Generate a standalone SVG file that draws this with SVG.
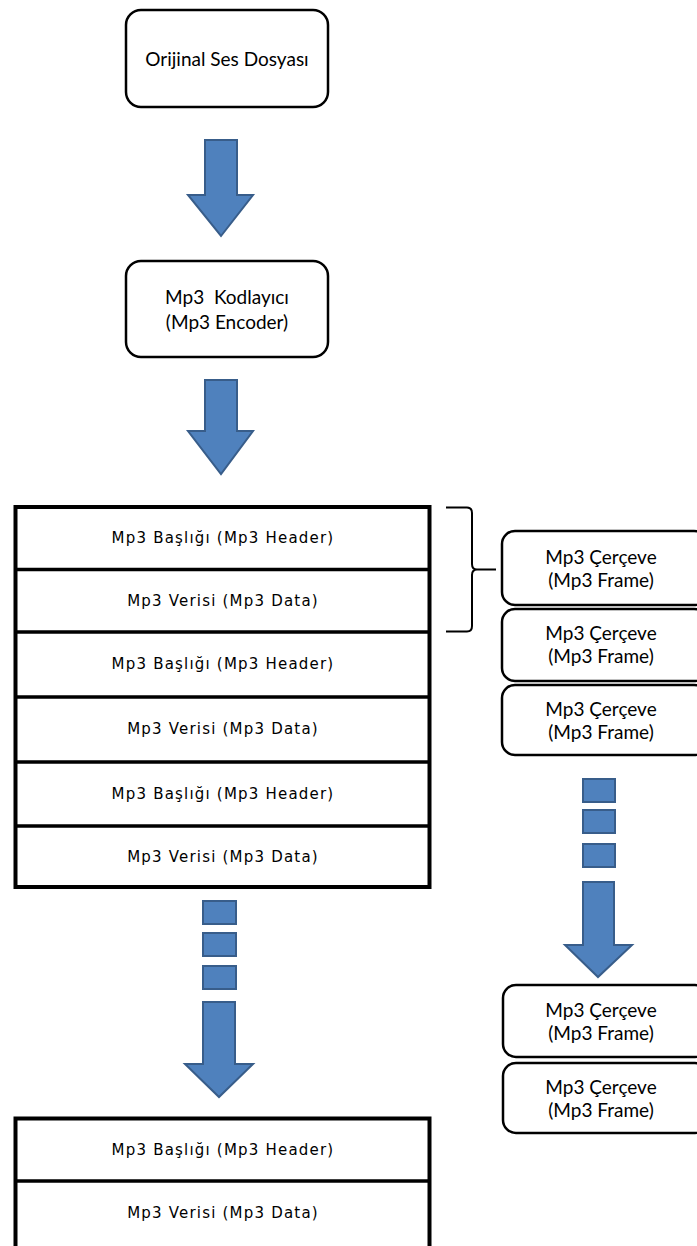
<svg xmlns="http://www.w3.org/2000/svg" width="697" height="1246" viewBox="0 0 697 1246">
  <style>
    .rbox { fill: #ffffff; stroke: #000000; stroke-width: 2.5; }
    .stack { fill: #ffffff; stroke: #000000; stroke-width: 4; }
    .div { stroke: #000000; stroke-width: 3.5; }
    .arrow { fill: #4F81BD; stroke: #385D8A; stroke-width: 2; }
    .lbl { font-family: "Lato", "Open Sans", "Liberation Sans", sans-serif; font-size: 19px; fill: #000000; text-anchor: middle; }
    .row { font-family: "DejaVu Sans", "Liberation Sans", sans-serif; font-size: 15px; letter-spacing: 1.2px; fill: #000000; text-anchor: middle; }
    .brace { fill: none; stroke: #000000; stroke-width: 2; }
  </style>

  <!-- source and encoder -->
  <g id="original">
    <rect class="rbox" x="126" y="10" width="202" height="97" rx="15"/>
    <text class="lbl" x="227" y="66">Orijinal Ses Dosyası</text>
  </g>
  <g id="encoder">
    <rect class="rbox" x="126" y="261" width="202" height="96" rx="15"/>
    <text class="lbl" x="227" y="304" xml:space="preserve">Mp3  Kodlayıcı</text>
    <text class="lbl" x="227" y="329">(Mp3 Encoder)</text>
  </g>

  <!-- header/data stack -->
  <g id="stack-main">
    <rect class="stack" x="15.5" y="507" width="414" height="380"/>
    <line class="div" x1="15.5" y1="569.5" x2="429.5" y2="569.5"/>
    <line class="div" x1="15.5" y1="632" x2="429.5" y2="632"/>
    <line class="div" x1="15.5" y1="697" x2="429.5" y2="697"/>
    <line class="div" x1="15.5" y1="762" x2="429.5" y2="762"/>
    <line class="div" x1="15.5" y1="826" x2="429.5" y2="826"/>
    <text class="row" x="223" y="543">Mp3 Başlığı (Mp3 Header)</text>
    <text class="row" x="223" y="606">Mp3 Verisi (Mp3 Data)</text>
    <text class="row" x="223" y="669">Mp3 Başlığı (Mp3 Header)</text>
    <text class="row" x="223" y="734">Mp3 Verisi (Mp3 Data)</text>
    <text class="row" x="223" y="799">Mp3 Başlığı (Mp3 Header)</text>
    <text class="row" x="223" y="862">Mp3 Verisi (Mp3 Data)</text>
  </g>

  <g id="stack-last">
    <rect class="stack" x="15.5" y="1118.5" width="414" height="140"/>
    <line class="div" x1="15.5" y1="1181" x2="429.5" y2="1181"/>
    <text class="row" x="223" y="1155">Mp3 Başlığı (Mp3 Header)</text>
    <text class="row" x="223" y="1218">Mp3 Verisi (Mp3 Data)</text>
  </g>

  <!-- frames -->
  <g id="frame-1">
    <rect class="rbox" x="502" y="531" width="205" height="74" rx="13"/>
    <text class="lbl" x="601" y="564">Mp3 Çerçeve</text>
    <text class="lbl" x="601" y="587">(Mp3 Frame)</text>
  </g>
  <g id="frame-2">
    <rect class="rbox" x="502" y="609" width="205" height="72" rx="13"/>
    <text class="lbl" x="601" y="640">Mp3 Çerçeve</text>
    <text class="lbl" x="601" y="663">(Mp3 Frame)</text>
  </g>
  <g id="frame-3">
    <rect class="rbox" x="502" y="685" width="205" height="70" rx="13"/>
    <text class="lbl" x="601" y="716">Mp3 Çerçeve</text>
    <text class="lbl" x="601" y="739">(Mp3 Frame)</text>
  </g>
  <g id="frame-4">
    <rect class="rbox" x="503" y="985" width="205" height="72" rx="13"/>
    <text class="lbl" x="601" y="1017">Mp3 Çerçeve</text>
    <text class="lbl" x="601" y="1040">(Mp3 Frame)</text>
  </g>
  <g id="frame-5">
    <rect class="rbox" x="503" y="1063" width="205" height="70" rx="13"/>
    <text class="lbl" x="601" y="1094">Mp3 Çerçeve</text>
    <text class="lbl" x="601" y="1117">(Mp3 Frame)</text>
  </g>

  <!-- connectors -->
  <g id="connectors">
    <polygon class="arrow" points="205,140 237,140 237,195 253,195 221,236 188,195 205,195"/>
    <polygon class="arrow" points="205,380 237,380 237,431 253,431 221,474 188,431 205,431"/>
    <rect class="arrow" x="203" y="901" width="33" height="23"/>
    <rect class="arrow" x="203" y="933" width="33" height="23"/>
    <rect class="arrow" x="203" y="966" width="33" height="23"/>
    <polygon class="arrow" points="203,1002 235,1002 235,1064 253,1064 219,1097 185,1064 203,1064"/>
    <rect class="arrow" x="583" y="779" width="32" height="23"/>
    <rect class="arrow" x="583" y="810" width="32" height="23"/>
    <rect class="arrow" x="583" y="844" width="32" height="23"/>
    <polygon class="arrow" points="583,882 614,882 614,945 632,945 598,977 565,945 583,945"/>
    <path class="brace" d="M446,507.5 L467,507.5 Q472,507.5 472,513 L472,564 Q472,569.5 477,569.5 L496,569.5 M477,569.5 Q472,569.5 472,575 L472,626 Q472,631.5 467,631.5 L446,631.5"/>
  </g>
</svg>
